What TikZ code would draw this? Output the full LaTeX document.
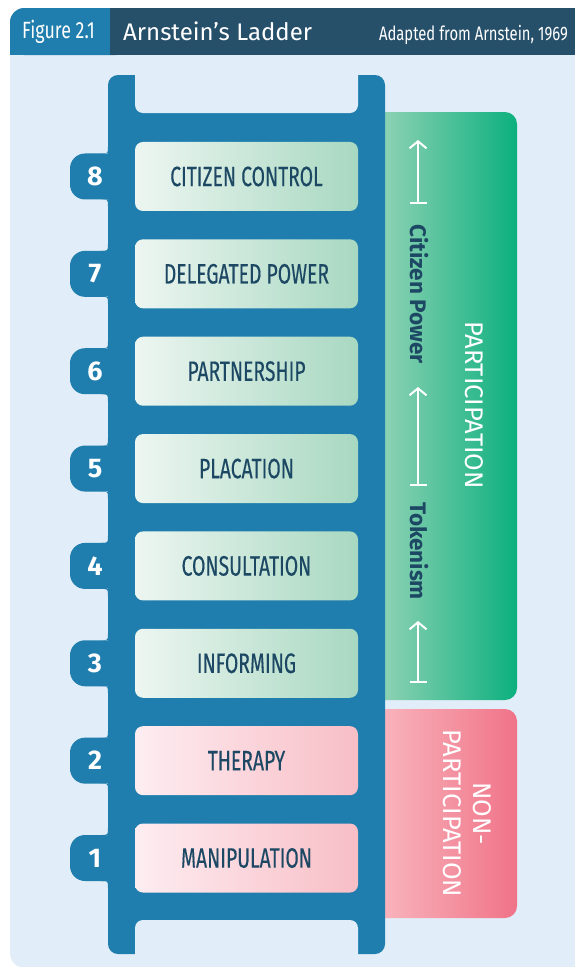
\documentclass[tikz,border=0pt]{standalone}
\usepackage{fontspec}
\setmainfont{Fira Sans}
\newfontfamily\condfont[FakeStretch=0.69, FakeBold=0.3]{Fira Sans}
\newfontfamily\narrowfont[FakeStretch=0.76]{Fira Sans}
\usetikzlibrary{arrows.meta, positioning}
\definecolor{bgblue}{RGB}{225,237,248}
\definecolor{ladderblue}{RGB}{31,126,173}
\definecolor{hdrdark}{RGB}{38,79,106}
\definecolor{navytext}{RGB}{29,72,100}
\definecolor{rungpale}{RGB}{237,246,241}
\definecolor{runggreen}{RGB}{168,216,193}
\definecolor{rungpalepink}{RGB}{253,237,241}
\definecolor{rungpink}{RGB}{248,190,198}
\definecolor{partlight}{RGB}{152,212,184}
\definecolor{partgreen}{RGB}{12,176,126}
\definecolor{nonlight}{RGB}{249,185,192}
\definecolor{nonpink}{RGB}{240,115,136}
\tikzset{
  rung/.style={rectangle, minimum width=223pt, minimum height=69pt,
    rounded corners=8pt, text=navytext,
    font=\condfont\fontsize{28}{30}\selectfont},
  greenrung/.style={rung, left color=rungpale, right color=runggreen},
  pinkrung/.style={rung, left color=rungpalepink, right color=rungpink},
  numtab/.style={rectangle, fill=ladderblue, minimum width=50pt,
    minimum height=46pt, rounded corners=15pt, text=white,
    font=\fontsize{27}{27}\selectfont\bfseries},
  panel/.style={rectangle, rounded corners=12pt, minimum width=145pt},
  sidelabel/.style={text=white, rotate=-90, align=center,
    font=\fontsize{25.5}{30}\selectfont},
  stagelabel/.style={text=navytext, rotate=-90,
    font=\fontsize{22.5}{24}\selectfont\bfseries},
  rise/.style={{Bar[width=17pt]}-{Straight Barb[length=7pt,width=17pt]},
    line width=2pt, white},
  hdrtext/.style={text=white, inner sep=0pt}
}
\begin{document}
\begin{tikzpicture}[x=1pt, y=-1pt]
  \useasboundingbox (0,0) rectangle (575,967);
  \fill[bgblue, rounded corners=15pt] (10,40) rectangle (600,968);

  % header bar
  \fill[ladderblue, rounded corners=14pt] (10,8) rectangle (130,55);
  \fill[ladderblue] (10,30) rectangle (40,55);
  \fill[hdrdark] (110,8) rectangle (575,55);
  \node[hdrtext, anchor=base, font=\narrowfont\fontsize{23.5}{26}\selectfont]
    (fig) at (58.5,38.5) {Figure 2.1};
  \node[hdrtext, anchor=base west, font=\fontsize{24}{28}\selectfont]
    (title) at (123,40) {Arnstein’s Ladder};
  \node[hdrtext, anchor=base east, font=\narrowfont\fontsize{19.5}{22}\selectfont]
    (src) at (568,40) {Adapted from Arnstein, 1969};

  % side panels
  \node[panel, minimum height=588pt, left color=partlight, right color=partgreen]
    (part) at (444.5,406) {};
  \node[panel, minimum height=209pt, left color=nonlight, right color=nonpink]
    (nonpart) at (444.5,813.5) {};

  % ladder rails with the open ends
  \fill[ladderblue, rounded corners=10pt] (108,75) rectangle (385,954);
  \fill[bgblue, rounded corners=8pt] (135,60) rectangle (358,113);
  \fill[bgblue, rounded corners=8pt] (135,920) rectangle (358,980);

  \foreach \i/\lbl/\kind in {1/MANIPULATION/pinkrung, 2/THERAPY/pinkrung,
      3/INFORMING/greenrung, 4/CONSULTATION/greenrung, 5/PLACATION/greenrung,
      6/PARTNERSHIP/greenrung, 7/DELEGATED POWER/greenrung,
      8/CITIZEN CONTROL/greenrung}{
    \pgfmathsetmacro{\yc}{858-(\i-1)*97.36}
    \node[numtab] (n\i) at (95,\yc) {\i};
    \fill[ladderblue] (108,{\yc-23}) -- (108,{\yc-30})
      .. controls (108,{\yc-23}) .. (101,{\yc-23}) -- cycle;
    \fill[ladderblue] (108,{\yc+23}) -- (108,{\yc+30})
      .. controls (108,{\yc+23}) .. (101,{\yc+23}) -- cycle;
    \node[\kind] (r\i) at (246.5,\yc) {\lbl};
  }

  % stage arrows and labels
  \coordinate (cp-base) at (418,204);
  \coordinate (cp-tip) at (418,140);
  \coordinate (tk-base) at (418,486);
  \coordinate (tk-tip) at (418,387);
  \coordinate (lo-base) at (418,683);
  \coordinate (lo-tip) at (418,621);
  \draw[rise] (cp-base) -- (cp-tip);
  \draw[rise] (tk-base) -- (tk-tip);
  \draw[rise] (lo-base) -- (lo-tip);
  \node[stagelabel] (power) at (419,294) {Citizen Power};
  \node[stagelabel] (token) at (419,551) {Tokenism};

  \node[sidelabel] (partlbl) at (474.5,405) {PARTICIPATION};
  \node[sidelabel] (nonlbl) at (467,813.5) {NON-\\PARTICIPATION};
\end{tikzpicture}
\end{document}
